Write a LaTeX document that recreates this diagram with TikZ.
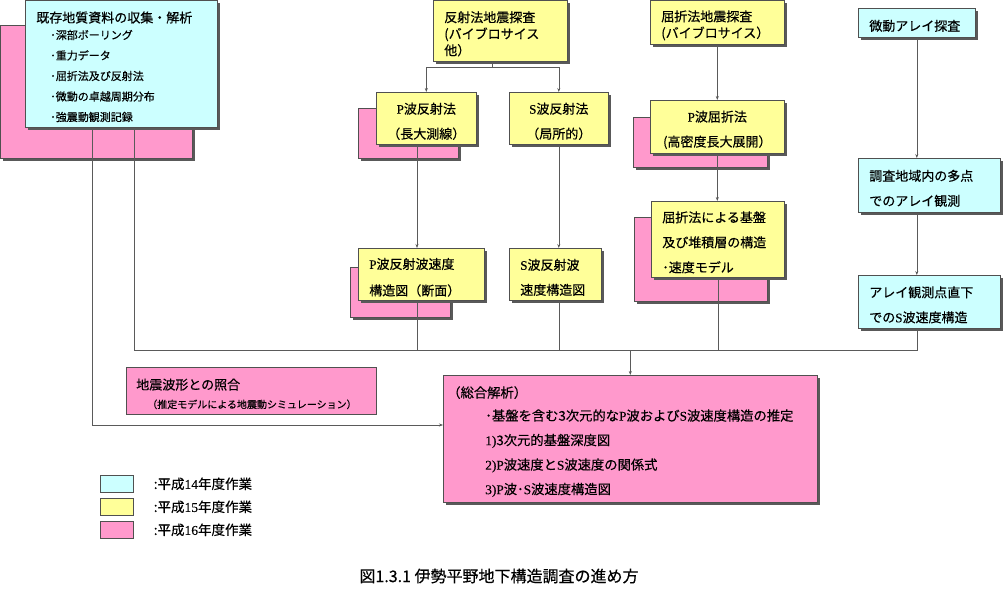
\documentclass[tikz,border=0pt]{standalone}
\usepackage{fontspec}
\setmainfont{Noto Sans CJK JP}[FakeBold=0.4]
\newfontfamily\latinfont{Liberation Serif}[FakeBold=0.3]
\newcommand{\rmL}[1]{{\latinfont #1}}
\usetikzlibrary{arrows.meta,shadows}
\definecolor{cyanbox}{HTML}{CCFFFF}
\definecolor{yellowbox}{HTML}{FFFF99}
\definecolor{pinkbox}{HTML}{FF99CC}
\definecolor{edgegray}{HTML}{505050}
\definecolor{linegray}{HTML}{5A5A5A}
\tikzset{
    box/.style={draw=edgegray, line width=0.6pt, anchor=north west,
        inner xsep=11pt, inner ysep=1pt, align=left,
        font=\fontsize{13}{25}\selectfont,
        execute at begin node={\rule{0pt}{17pt}}},
    shadowed/.style={drop shadow={shadow xshift=3pt, shadow yshift=-3pt,
        fill=black!65, opacity=1}},
    cyan box/.style={box, shadowed, fill=cyanbox},
    yellow box/.style={box, shadowed, fill=yellowbox},
    pink box/.style={box, shadowed, fill=pinkbox},
    pinkback/.style={draw=edgegray, line width=0.6pt, anchor=north west,
        shadowed, fill=pinkbox, inner sep=0pt},
    keybox/.style={draw=edgegray, line width=0.6pt, anchor=north west,
        inner sep=0pt, minimum width=33pt, minimum height=17pt},
    keytext/.style={anchor=west, inner sep=0pt, font=\fontsize{13.5}{16}\selectfont},
    conn/.style={draw=linegray, line width=0.6pt},
    arr/.style={conn, -{Stealth[length=4pt, width=3pt]}}
}

\begin{document}
\begin{tikzpicture}[x=1pt, y=-1pt]
    \useasboundingbox (0,0) rectangle (1003,597);
    % pink boxes lying behind
    \node[pinkback, minimum width=192pt, minimum height=133pt] (existback) at (0,25) {};
    \node[pinkback, minimum width=100pt, minimum height=50pt] (reflPback) at (358,108) {};
    \node[pinkback, minimum width=134pt, minimum height=50pt] (refrPback) at (633,117) {};
    \node[pinkback, minimum width=100pt, minimum height=50pt] (reflPvback) at (350,267) {};
    \node[pinkback, minimum width=133pt, minimum height=84pt] (refrMback) at (634,217) {};

    % boxes
    \node[cyan box, text width=170pt, minimum height=127pt,
        font=\fontsize{11}{20.5}\selectfont] (exist) at (25,0) {
        {\fontsize{13}{16}\selectfont 既存地質資料の収集・解析}\\[-3.8pt]
        \hspace*{14pt}･深部ボーリング\\
        \hspace*{14pt}･重力データ\\
        \hspace*{14pt}･屈折法及び反射法\\
        \hspace*{14pt}･微動の卓越周期分布\\
        \hspace*{14pt}･強震動観測記録};
    \node[yellow box, text width=112pt, minimum height=61pt,
        font=\fontsize{13}{16.5}\selectfont] (refl) at (433,0)
        {反射法地震探査\\(バイブロサイス\\他）};
    \node[yellow box, text width=112pt, minimum height=44pt,
        font=\fontsize{13}{16.5}\selectfont] (refr) at (650,0)
        {屈折法地震探査\\(バイブロサイス）};
    \node[cyan box, text width=95pt, minimum height=29pt] (bika) at (858,8) {微動アレイ探査};

    \node[yellow box, align=center, inner xsep=5pt, text width=90pt,
        minimum height=52pt] (reflP) at (376,92) {\rmL{P}波反射法\\（長大測線）};
    \node[yellow box, align=center, inner xsep=5pt, text width=89pt,
        minimum height=52pt] (reflS) at (509,92) {\rmL{S}波反射法\\（局所的）};
    \node[yellow box, align=center, text width=112pt,
        minimum height=53pt] (refrP) at (650,100) {\rmL{P}波屈折法\\(高密度長大展開）};
    \node[cyan box, text width=120pt, minimum height=54pt] (array) at (858,158)
        {調査地域内の多点\\でのアレイ観測};

    \node[yellow box, text width=104pt, minimum height=52pt,
        font=\fontsize{13}{26.5}\selectfont] (reflPv) at (358,248)
        {\rmL{P}波反射波速度\\構造図（断面）};
    \node[yellow box, text width=70pt, minimum height=52pt] (reflSv) at (509,248)
        {\rmL{S}波反射波\\速度構造図};
    \node[yellow box, text width=111pt, minimum height=76pt] (refrM) at (651,201)
        {屈折法による基盤\\及び堆積層の構造\\･速度モデル};
    \node[cyan box, text width=120pt, minimum height=53pt] (arrayS) at (858,275)
        {アレイ観測点直下\\での\rmL{S}波速度構造};

    \node[box, fill=pinkbox, inner xsep=10pt, text width=230pt, minimum height=47pt,
        font=\fontsize{13}{18.7}\selectfont] (wave) at (126,367) {
        地震波形との照合\\
        {\fontsize{10}{12}\selectfont\hspace*{11pt}（推定モデルによる地震動シミュレーション）}};
    \node[pink box, inner xsep=4pt, text width=366pt, minimum height=127pt,
        font=\fontsize{13.3}{24.5}\selectfont] (total) at (443,375) {
        （総合解析）\\[-1.5pt]
        \hspace*{38pt}･基盤を含む3次元的な\rmL{P}波および\rmL{S}波速度構造の推定\\
        \hspace*{38pt}\rmL{1)}3次元的基盤深度図\\
        \hspace*{38pt}\rmL{2)P}波速度と\rmL{S}波速度の関係式\\
        \hspace*{38pt}\rmL{3)P}波･\rmL{S}波速度構造図};

    % connectors
    \coordinate (split) at (0,67);
    \coordinate (bus) at (0,350);
    \coordinate (feed) at (0,425);
    \coordinate (colRefl) at (492,0);
    \coordinate (colP) at (417,0);
    \coordinate (colL1) at (92,0);
    \coordinate (colL2) at (134,0);

    \draw[conn] (colRefl |- refl.south) -- (colRefl |- split);
    \draw[arr] (colRefl |- split) -| (reflP.north);
    \draw[arr] (colRefl |- split) -| (reflS.north);
    \draw[arr] (refr.south) -- (refr.south |- refrP.north);
    \draw[arr] (refrP.south) -- (refrP.south |- refrM.north);
    \draw[conn] (refrM.south) -- (refrM.south |- bus);
    \draw[arr] (colP |- reflP.south) -- (colP |- reflPv.north);
    \draw[conn] (colP |- reflPv.south) -- (colP |- bus);
    \draw[arr] (reflS.south) -- (reflS.south |- reflSv.north);
    \draw[conn] (reflS.south |- reflSv.south) -- (reflS.south |- bus);
    \draw[arr] (bika.south) -- (bika.south |- array.north);
    \draw[arr] (bika.south |- array.south) -- (bika.south |- arrayS.north);
    \draw[conn] (colL2 |- exist.south) |- (bika.south |- bus) -- (bika.south |- arrayS.south);
    \draw[arr] (total.north |- bus) -- (total.north);
    \draw[arr] (colL1 |- exist.south) |- (total.west |- feed);

    % legend
    \node[keybox, fill=cyanbox] (key14) at (100,475) {};
    \node[keybox, fill=yellowbox] (key15) at (100,498) {};
    \node[keybox, fill=pinkbox] (key16) at (100,521) {};
    \node[keytext] (key14text) at ([xshift=20pt]key14.east) {:平成\rmL{14}年度作業};
    \node[keytext] (key15text) at ([xshift=20pt]key15.east) {:平成\rmL{15}年度作業};
    \node[keytext] (key16text) at ([xshift=20pt]key16.east) {:平成\rmL{16}年度作業};

    \node[font=\fontsize{16}{18}\selectfont] (caption) at (499,576)
        {図1.3.1 伊勢平野地下構造調査の進め方};
\end{tikzpicture}
\end{document}
